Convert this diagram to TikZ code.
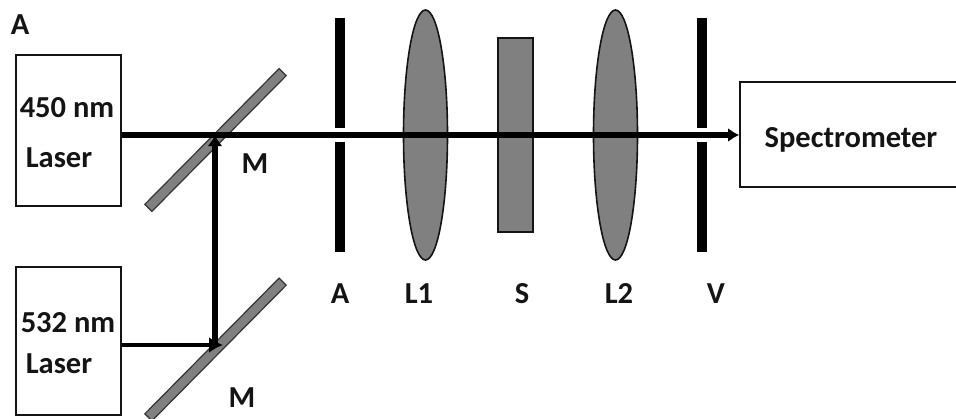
\documentclass[tikz,border=0pt]{standalone}
\usepackage{fontspec}
\setmainfont{Carlito}
\usepackage{xcolor}
\usetikzlibrary{arrows.meta, shapes.geometric}
\definecolor{optgray}{RGB}{128,128,128}
\definecolor{mydark}{RGB}{20,20,20}
\tikzset{
  box/.style={rectangle, draw=mydark, fill=white, line width=1.6pt, inner sep=0pt},
  mirror/.style={rectangle, draw=mydark!70!optgray, fill=optgray, line width=1.2pt,
    minimum width=191pt, minimum height=10pt, inner sep=0pt, rotate=45.3},
  slit/.style={rectangle, fill=black, minimum width=10pt, minimum height=110pt, inner sep=0pt},
  lens/.style={ellipse, draw=mydark, fill=optgray, line width=1.6pt,
    minimum width=44pt, minimum height=250pt, inner sep=0pt},
  label/.style={font=\fontsize{30.5}{34}\selectfont\bfseries, text=mydark, inner sep=0pt, anchor=base},
  beam/.style={line width=6pt, color=black},
  thinbeam/.style={line width=3.2pt, color=black}
}
\begin{document}
\begin{tikzpicture}[x=1pt, y=-1pt]
  \useasboundingbox (0,0) rectangle (956,418);

  % Sources and detector
  \node[box, minimum width=105pt, minimum height=151pt] (laserA) at (68.5,130.5) {};
  \node[box, minimum width=105pt, minimum height=148pt] (laserB) at (68.5,341) {};
  \node[box, minimum width=230pt, minimum height=105pt] (spec) at (855,134.5) {};

  % Mirrors
  \node[mirror] (mirrorA) at (215.5,140) {};
  \node[mirror] (mirrorB) at (215.5,349.5) {};

  % Apertures
  \node[slit] (slitA1) at (340,73) {};
  \node[slit] (slitA2) at (340,196.5) {};
  \node[slit] (slitV1) at (701.5,73) {};
  \node[slit] (slitV2) at (701.5,196.5) {};

  % Lenses and sample
  \node[lens] (lensA) at (425.5,135) {};
  \node[lens] (lensB) at (615.5,135) {};
  \node[rectangle, draw=mydark, fill=optgray, line width=1.4pt, inner sep=0pt,
    minimum width=35pt, minimum height=194pt] (sample) at (515.5,135) {};

  % Beams
  \coordinate (hitA) at (215,135);
  \coordinate (hitB) at (215,345);
  \coordinate (tipB) at (223,345);
  \draw[beam, -{Latex[length=11pt, width=14pt]}] (laserA.east |- hitA) -- (spec.west |- hitA);
  \draw[beam, -{Latex[length=11pt, width=15pt]}] (hitB) -- (hitA);
  \draw[thinbeam, -{Latex[length=14pt, width=16pt]}] (laserB.east |- hitB) -- (tipB);

  % Labels
  \node[label] (title) at (20,34) {A};
  \node[label] (wavA) at (67,117) {450 nm};
  \node[label] (lasA) at (59,167) {Laser};
  \node[label] (wavB) at (68,332) {532 nm};
  \node[label] (lasB) at (59,373) {Laser};
  \node[label] (specText) at (851,147) {Spectrometer};
  \node[label] (labM1) at (255,173) {M};
  \node[label] (labM2) at (242,407) {M};
  \node[label] (labA) at (340,303) {A};
  \node[label] (labL1) at (419,303) {L1};
  \node[label] (labS) at (522,303) {S};
  \node[label] (labL2) at (619,303) {L2};
  \node[label] (labV) at (716,303) {V};
\end{tikzpicture}
\end{document}
